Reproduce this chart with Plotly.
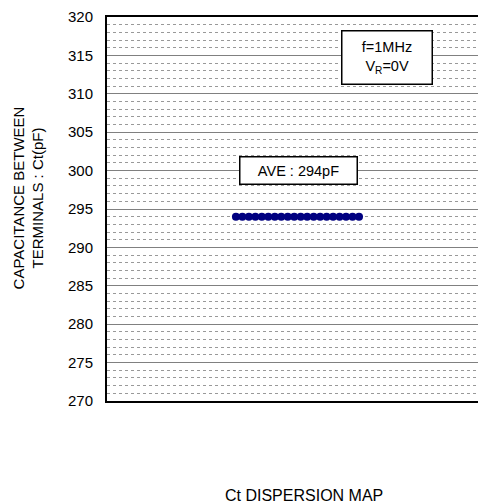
import plotly.graph_objects as go

sample_no = list(range(1, 21))
ct_pf = [294] * 20
y_ticks = [270, 275, 280, 285, 290, 295, 300, 305, 310, 315, 320]
ave_label = "AVE : 294pF"
cond_label = "f=1MHz<br>V<sub>R</sub>=0V"
x_title = "Ct DISPERSION MAP"
y_title = "CAPACITANCE BETWEEN<br>TERMINALS : Ct(pF)"

fig = go.Figure()
fig.add_trace(go.Scatter(
    x=sample_no, y=ct_pf, mode="markers",
    marker=dict(size=8, color="#000080", line=dict(width=0)),
    showlegend=False, cliponaxis=False,
))

fig.update_layout(
    width=478, height=496, autosize=False,
    margin=dict(l=99, r=0, t=9, b=103),
    paper_bgcolor="white", plot_bgcolor="white",
    font=dict(family="Liberation Sans, Arial, sans-serif", color="black"),
    showlegend=False,
)
fig.update_xaxes(
    range=[-18.9, 39.6], showticklabels=False, ticks="",
    showgrid=False, zeroline=False,
    showline=True, linecolor="black", linewidth=2, mirror=True,
)
fig.update_yaxes(
    range=[270, 320], tickvals=y_ticks, ticktext=[str(v) for v in y_ticks],
    tickfont=dict(size=15), ticks="", ticklen=0, ticklabelstandoff=9,
    showgrid=True, gridcolor="#808080", gridwidth=1,
    minor=dict(dtick=1, showgrid=True, gridcolor="#999999", gridwidth=1, griddash="dot"),
    zeroline=False, showline=True, linecolor="black", linewidth=2, mirror=False,
)

fig.add_annotation(
    x=-0.207, xref="paper", xanchor="center", y=0.529, yref="paper", yanchor="middle",
    text=y_title, textangle=-90, showarrow=False,
    font=dict(size=15), align="center",
)
fig.add_annotation(
    x=0.521, xref="paper", y=-0.2466, yref="paper", yanchor="middle",
    text=x_title, showarrow=False, font=dict(size=16),
)
fig.add_annotation(
    x=0.504, xref="paper", y=0.600, yref="paper", yanchor="middle",
    text=ave_label, showarrow=False, font=dict(size=14.5),
    bordercolor="black", borderwidth=1.5, bgcolor="white",
    borderpad=3, width=110, height=20,
)
fig.add_annotation(
    x=0.859, xref="paper", y=0.8945, yref="paper", yanchor="middle",
    text=cond_label, showarrow=False, font=dict(size=14.5),
    bordercolor="black", borderwidth=1.5, bgcolor="white",
    borderpad=5, width=79, height=42, align="center",
)

fig.write_html("out.html")
